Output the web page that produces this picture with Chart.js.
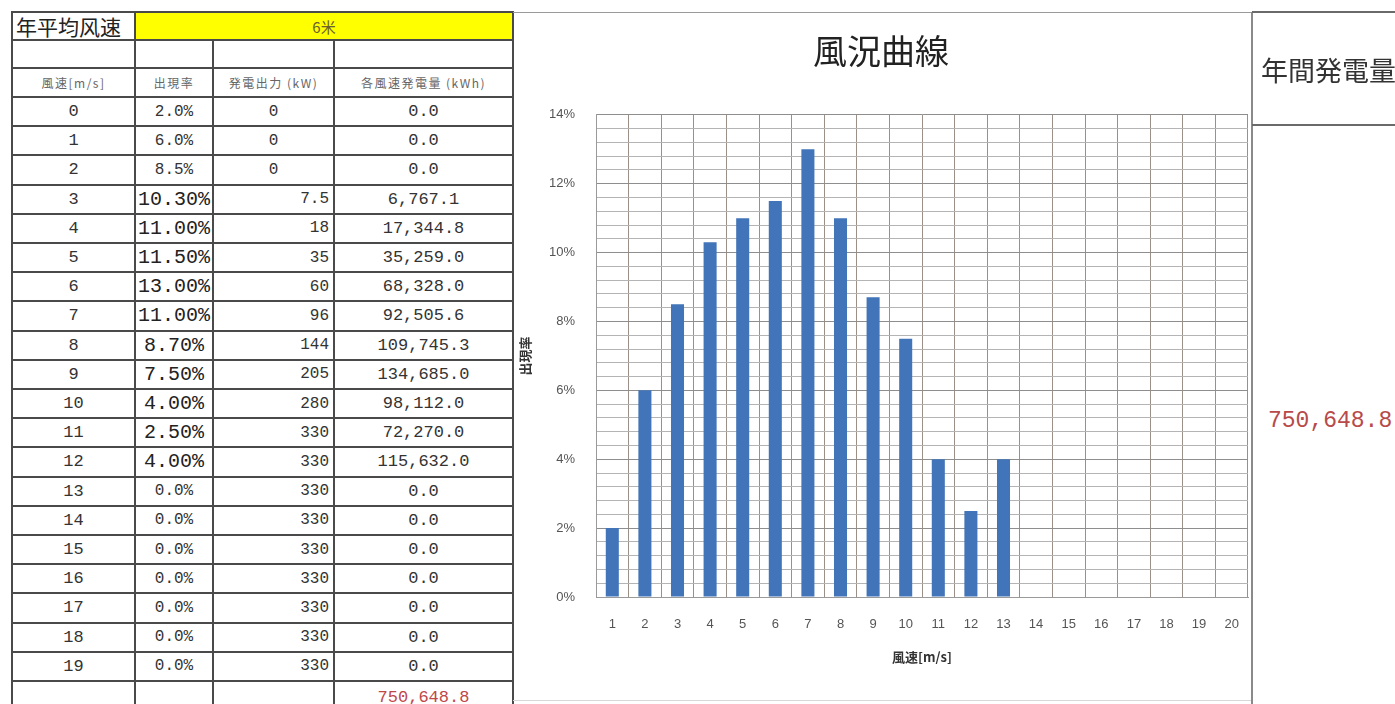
<!DOCTYPE html>
<html>
<head>
<meta charset="utf-8">
<script src="https://cdn.jsdelivr.net/npm/chart.js@4.4.1/dist/chart.umd.min.js"></script>
<style>
  html, body { margin:0; padding:0; background:#fff; }
  body { width:1395px; height:704px; overflow:hidden; position:relative; }
  .ln { position:absolute; background:#4a4a4a; }
  .cell { position:absolute; display:flex; align-items:center; white-space:nowrap; color:#333; font-family:"Liberation Mono", monospace; }
  .c { justify-content:center; }
  .r { justify-content:flex-end; padding-right:4px; box-sizing:border-box; }
  .cjk { font-family:"Noto Sans CJK JP", "Noto Sans CJK SC", sans-serif; }
  #chartBox { position:absolute; left:514px; top:12px; width:738px; height:688px; }
</style>
</head>
<body>
<div id="tbl"></div>
<div id="chartBox"><canvas id="c" width="738" height="688"></canvas></div>
<div class="ln" style="left:513px;top:12px;width:739px;height:1px;background:#9a9a9a"></div>
<div class="ln" style="left:513px;top:700px;width:739px;height:1px;background:#d8d8d8"></div>
<div class="ln" style="left:1251px;top:12px;width:2px;height:692px;background:#8a8a8a"></div>
<div class="ln" style="left:1252px;top:11px;width:143px;height:2px;background:#6a6a6a"></div>
<div class="ln" style="left:1252px;top:124px;width:143px;height:2px;background:#6a6a6a"></div>
<div class="cell cjk" style="left:1261px;top:49px;height:40px;font-size:27px;color:#333">年間発電量</div>
<div class="cell" id="rightTotal" style="left:1268px;top:405px;height:32px;font-size:23px;color:#b84a4a"></div>
<script>
// ---- data ----
const avgWindLabel = '年平均风速';
const avgWindValue = '6米';
const headerLabels = ['風速[m/s]', '出現率', '発電出力 (kW)', '各風速発電量 (kWh)'];
const windSpeeds = [0,1,2,3,4,5,6,7,8,9,10,11,12,13,14,15,16,17,18,19];
const occurrence = [2.0,6.0,8.5,10.3,11.0,11.5,13.0,11.0,8.7,7.5,4.0,2.5,4.0,0,0,0,0,0,0,0];
const occurrenceDecimals = [1,1,1,2,2,2,2,2,2,2,2,2,2,1,1,1,1,1,1,1];
const powerOutput = [0,0,0,7.5,18,35,60,96,144,205,280,330,330,330,330,330,330,330,330,330];
const energyOutput = [0,0,0,6767.1,17344.8,35259.0,68328.0,92505.6,109745.3,134685.0,98112.0,72270.0,115632.0,0,0,0,0,0,0,0];
const totalEnergy = 750648.8;
const chartTitle = '風況曲線';
const chartLabels = ['1','2','3','4','5','6','7','8','9','10','11','12','13','14','15','16','17','18','19','20'];
const yTitle = '出現率';
const xTitle = '風速[m/s]';
const yTickLabels = {0:'0%',2:'2%',4:'4%',6:'6%',8:'8%',10:'10%',12:'12%',14:'14%'};

// ---- table ----
const fmt1 = v => v.toLocaleString('en-US',{minimumFractionDigits:1,maximumFractionDigits:1});
const colX = [12,135,213,334,513];
const rowY = [12,40,68,97];
for (let i=1;i<=20;i++) rowY.push(97 + 29.2*i);
rowY.push(711);
const tbl = document.getElementById('tbl');
function add(html){ tbl.insertAdjacentHTML('beforeend', html); }
add(`<div style="position:absolute;left:${colX[1]}px;top:${rowY[0]}px;width:${colX[4]-colX[1]}px;height:${rowY[1]-rowY[0]}px;background:#ffff00"></div>`);
rowY.forEach(y => add(`<div class="ln" style="left:${colX[0]-1}px;top:${y-1}px;width:${colX[4]-colX[0]+2}px;height:2px"></div>`));
colX.forEach((x,i) => {
  const top = (i===2||i===3) ? rowY[1] : rowY[0];
  add(`<div class="ln" style="left:${x-1}px;top:${top-1}px;width:2px;height:${711-top}px"></div>`);
});
function cell(ci, ri, text, cls, style){
  const x0 = colX[ci], x1 = colX[ci+1], y0 = rowY[ri], y1 = rowY[ri+1];
  add(`<div class="cell ${cls}" style="left:${x0+1}px;top:${y0+1}px;width:${x1-x0-2}px;height:${y1-y0-2}px;${style||''}">${text}</div>`);
}
add(`<div class="cell cjk" style="left:${colX[0]+4}px;top:${rowY[0]}px;height:${rowY[1]-rowY[0]}px;font-size:21px;color:#222">${avgWindLabel}</div>`);
add(`<div class="cell cjk c" style="left:${colX[1]}px;top:${rowY[0]}px;width:${colX[4]-colX[1]}px;height:${rowY[1]-rowY[0]}px;font-size:15px;color:#6a6030">${avgWindValue}</div>`);
headerLabels.forEach((t,i) => cell(i, 2, t, 'cjk c', 'font-size:12px;color:#666;letter-spacing:1.5px'));
windSpeeds.forEach((s,i) => {
  const r = i + 3;
  cell(0, r, String(s), 'c', 'font-size:17px');
  const dec = occurrenceDecimals[i];
  cell(1, r, occurrence[i].toFixed(dec) + '%', 'c', dec===2 ? 'font-size:20px;color:#222' : 'font-size:16px');
  cell(2, r, String(powerOutput[i]), powerOutput[i]===0 ? 'c' : 'r', 'font-size:16px');
  cell(3, r, fmt1(energyOutput[i]), 'c', 'font-size:17px');
});
cell(3, 23, fmt1(totalEnergy), 'c', 'font-size:17px;color:#c04848;align-items:flex-start;padding-top:6px;box-sizing:border-box');
document.getElementById('rightTotal').textContent = fmt1(totalEnergy);

// ---- chart ----
const tickFont = { family: '"Liberation Sans", sans-serif', size: 13 };
const titleFont = { family: '"Noto Sans CJK JP", sans-serif', size: 13, weight: 'bold' };
new Chart(document.getElementById('c'), {
  type: 'bar',
  data: {
    labels: chartLabels,
    datasets: [{ data: occurrence, backgroundColor: '#4174b9', borderWidth: 0, barPercentage: 0.5, categoryPercentage: 0.8 }]
  },
  options: {
    responsive: false, animation: false, devicePixelRatio: 1,
    layout: { padding: { left: 0, right: 4, top: 0, bottom: 0 } },
    plugins: {
      legend: { display: false }, tooltip: { enabled: false },
      title: { display: true, text: chartTitle, color: '#222',
        font: { family: '"Noto Sans CJK JP", sans-serif', size: 34, weight: 'normal' },
        padding: { top: 19, bottom: 43 } }
    },
    scales: {
      x: {
        grid: { offset: true, drawTicks: false, color: '#9a9088', lineWidth: 1 },
        border: { color: '#9a9a9a' },
        ticks: { padding: 20, font: tickFont, color: '#555', maxRotation: 0, autoSkip: false },
        title: { display: true, text: xTitle, font: titleFont, color: '#333', padding: { top: 0, bottom: 35 } },
        afterFit: s => { s.height = 103; s.paddingLeft = 0; s.paddingRight = 0; }
      },
      y: {
        min: 0, max: 14,
        grid: { drawTicks: false, lineWidth: 1,
          color: ctx => (Math.abs(ctx.tick.value/2 - Math.round(ctx.tick.value/2)) < 1e-6) ? '#8e8e8e' : '#b4b4b4' },
        border: { color: '#9a9a9a' },
        ticks: { stepSize: 0.4, autoSkip: false, padding: 21, font: tickFont, color: '#555',
          callback: v => { const k = Math.round(v*10)/10; return (k in yTickLabels && Math.abs(k - Math.round(k)) < 1e-6) ? yTickLabels[k] : ''; } },
        title: { display: true, text: yTitle, font: titleFont, color: '#333', padding: { top: 3, bottom: 0 } },
        afterFit: s => { s.width = 82; }
      }
    }
  }
});
</script>
</body>
</html>
